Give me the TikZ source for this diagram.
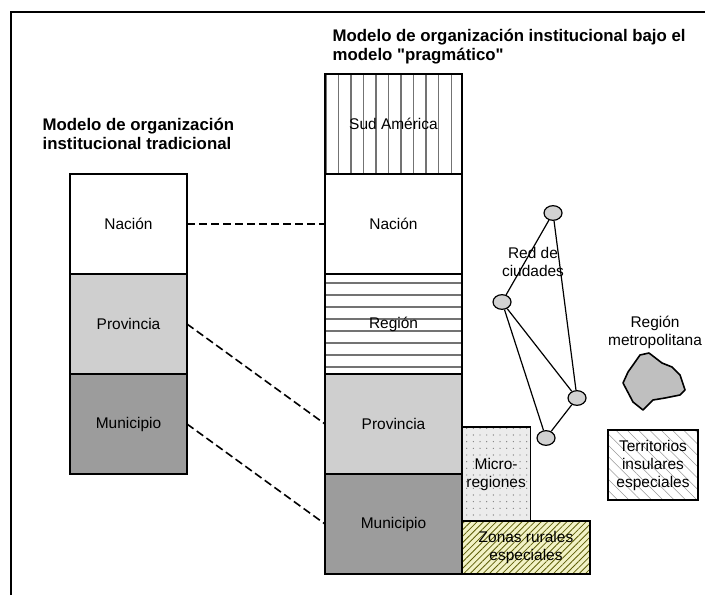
\documentclass[tikz,border=0pt]{standalone}
\usepackage{fontspec}
\setmainfont{Liberation Sans}
\usetikzlibrary{positioning, patterns.meta, shapes.geometric}

\definecolor{zonefill}{HTML}{F2F2C6}
\definecolor{zoneline}{HTML}{5E5E08}

\begin{document}
\begin{tikzpicture}[x=0.75pt, y=-0.75pt, node distance=0pt,
    box/.style = {draw, line width=0.9pt, outer sep=0pt, minimum height=75pt, align=center, font=\fontsize{11.6}{13.5}\selectfont},
    oldbox/.style = {box, minimum width=87.75pt},
    newbox/.style = {box, minimum width=102.75pt},
    city/.style = {draw, ellipse, line width=0.9pt, fill=gray!35, minimum width=13.5pt, minimum height=11pt, inner sep=0pt},
    heading/.style = {anchor=north west, align=left, font=\fontsize{12.6}{14.5}\selectfont\bfseries},
    label/.style = {align=center, font=\fontsize{11.6}{13.5}\selectfont},
    link/.style = {line width=1.2pt, dash pattern=on 6pt off 3pt}]
    \useasboundingbox (0,0) rectangle (705,595);
    \draw[line width=1.2pt] (11,595) -- (11,12) -- (705,12);

    % traditional model
    \node[heading] (titleL) at (38,113) {Modelo de organización\\institucional tradicional};
    \node[oldbox] (nacL) at (128.5,224) {Nación};
    \node[oldbox, fill=gray!38] (provL) [below=of nacL] {Provincia};
    \node[oldbox, fill=gray!78] (munL) [below=of provL] {Municipio};

    % pragmatic model
    \node[heading] (titleR) at (328,24) {Modelo de organización institucional bajo el\\modelo \textquotedbl pragmático\textquotedbl};
    \node[newbox, pattern={Lines[angle=90, distance=9.4pt, line width=1pt]}, pattern color=black!55] (sudR) at (393.5,124) {Sud América};
    \node[newbox] (nacR) [below=of sudR] {Nación};
    \node[newbox, pattern={Lines[angle=0, distance=9pt, line width=1pt]}, pattern color=black!55] (regR) [below=of nacR] {Región};
    \node[newbox, fill=gray!38] (provR) [below=of regR] {Provincia};
    \node[newbox, fill=gray!78] (munR) [below=of provR] {Municipio};

    \node[box, minimum width=96pt, minimum height=39.75pt, anchor=south west, preaction={fill=zonefill}, pattern={Lines[angle=45, distance=3.4pt, line width=0.6pt]}, pattern color=zoneline] (zonas) at (munR.south east) {Zonas rurales\\especiales};
    \node[box, minimum width=51pt, minimum height=70.5pt, anchor=south west, preaction={fill=gray!15}, pattern={Dots[distance=5pt, radius=0.5pt]}, pattern color=black!50] (micro) at (zonas.north west) {Micro-\\regiones};
    \node[box, minimum width=67.5pt, minimum height=52.5pt, pattern={Lines[angle=-45, distance=6pt, line width=0.4pt]}, pattern color=gray!80] (insul) at (653,465) {Territorios\\insulares\\especiales};

    % network of cities
    \node[label] (redLbl) at (533,262) {Red de\\ciudades};
    \node[city] (c1) at (553,213) {};
    \node[city] (c2) at (502,302) {};
    \node[city] (c3) at (577,398) {};
    \node[city] (c4) at (546,438) {};
    \draw[line width=0.9pt] (c1) -- (c2);
    \draw[line width=0.9pt] (c1) -- (c3);
    \draw[line width=0.9pt] (c2) -- (c3);
    \draw[line width=0.9pt] (c2) -- (c4);
    \draw[line width=0.9pt] (c3) -- (c4);

    % metropolitan region
    \node[label] (metroLbl) at (655,332) {Región\\metropolitana};
    \draw[line width=1.2pt, line join=round, fill=gray!50] (633,365) -- (640,355) -- (649,353) -- (662,363) -- (672,367) -- (680,375) -- (685,390) -- (680,395) -- (665,398) -- (653,400) -- (643,410) -- (633,402) -- (623,383) -- (628,372) -- cycle;

    \draw[link] (nacL.east) -- (nacR.west);
    \draw[link] (provL.east) -- (provR.west);
    \draw[link] (munL.east) -- (munR.west);
\end{tikzpicture}
\end{document}
